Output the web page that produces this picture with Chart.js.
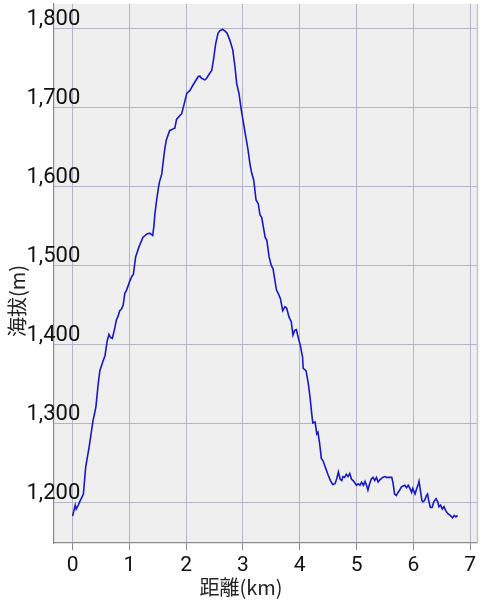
<!DOCTYPE html>
<html>
<head>
<meta charset="utf-8">
<script src="https://cdn.jsdelivr.net/npm/chart.js@4/dist/chart.umd.min.js"></script>
<style>
html,body{margin:0;padding:0;background:#fff;}
#wrap{width:482px;height:600px;position:relative;}
canvas{display:block;}
</style>
</head>
<body>
<div id="wrap"><canvas id="c" width="482" height="600"></canvas></div>
<script>
const distKm = [0.00,0.046,0.063,0.10,0.13,0.19,0.23,0.29,0.36,0.41,0.45,0.48,0.53,0.57,0.61,0.64,0.67,0.70,0.74,0.77,0.80,0.83,0.86,0.89,0.92,0.95,1.01,1.04,1.07,1.11,1.17,1.24,1.31,1.36,1.41,1.43,1.45,1.48,1.51,1.53,1.57,1.62,1.65,1.71,1.74,1.77,1.80,1.83,1.89,1.92,1.98,2.01,2.07,2.10,2.15,2.21,2.24,2.27,2.33,2.36,2.42,2.45,2.48,2.52,2.56,2.59,2.62,2.64,2.68,2.72,2.77,2.82,2.86,2.89,2.93,2.97,3.00,3.05,3.09,3.12,3.15,3.19,3.23,3.27,3.30,3.33,3.39,3.42,3.46,3.50,3.53,3.59,3.62,3.66,3.70,3.74,3.77,3.81,3.85,3.88,3.91,3.94,3.97,4.01,4.05,4.06,4.11,4.15,4.18,4.21,4.23,4.27,4.30,4.32,4.35,4.38,4.41,4.46,4.50,4.54,4.58,4.62,4.65,4.68,4.71,4.74,4.76,4.79,4.82,4.85,4.88,4.91,4.94,4.97,5.00,5.03,5.06,5.09,5.12,5.15,5.18,5.20,5.23,5.26,5.29,5.32,5.35,5.38,5.41,5.46,5.50,5.53,5.57,5.62,5.64,5.67,5.70,5.73,5.76,5.79,5.82,5.85,5.88,5.91,5.94,5.97,5.99,6.03,6.06,6.09,6.10,6.13,6.15,6.17,6.20,6.23,6.25,6.27,6.30,6.33,6.36,6.40,6.43,6.45,6.48,6.51,6.54,6.57,6.61,6.65,6.69,6.72,6.75,6.78];
const elevM = [1183,1197,1192,1197,1202,1211,1245,1270,1304,1321,1350,1367,1378,1386,1405,1413,1409,1408,1420,1431,1436,1443,1445,1450,1465,1469,1481,1486,1489,1511,1524,1536,1540,1541,1538,1549,1566,1583,1598,1606,1616,1646,1659,1671,1672,1673,1674,1685,1690,1692,1709,1718,1722,1726,1732,1739,1740,1737,1735,1737,1744,1747,1760,1781,1794,1797,1798,1799,1797,1794,1785,1773,1751,1730,1718,1697,1684,1663,1646,1630,1618,1608,1583,1578,1564,1561,1536,1532,1511,1500,1496,1469,1465,1458,1443,1448,1446,1435,1429,1412,1418,1419,1410,1399,1384,1370,1367,1351,1334,1313,1301,1302,1287,1289,1275,1256,1253,1243,1235,1228,1223,1224,1230,1239,1230,1228,1233,1232,1236,1233,1237,1230,1228,1225,1222,1224,1222,1226,1222,1227,1221,1216,1224,1230,1232,1228,1232,1226,1229,1232,1233,1232,1232,1232,1226,1211,1209,1213,1216,1220,1221,1222,1219,1222,1218,1213,1218,1211,1218,1224,1227,1213,1203,1201,1203,1209,1211,1203,1194,1194,1201,1205,1201,1195,1197,1192,1195,1190,1186,1184,1181,1184,1182,1184];
const xTickValues = [0,1,2,3,4,5,6,7];
const yTickValues = [1200,1300,1400,1500,1600,1700,1800];
const xTitle = '距離(km)';
const yTitle = '海拔(m)';

const points = distKm.map((d,i)=>({x:d,y:elevM[i]}));

const bgPlugin = {
  id:'bg',
  beforeDraw(chart){
    const {ctx, chartArea:a} = chart;
    ctx.save();
    ctx.fillStyle = '#efeff0';
    ctx.fillRect(a.left, a.top, a.right-a.left, a.bottom-a.top);
    ctx.restore();
  },
  beforeDatasetsDraw(chart){
    const {ctx, chartArea:a} = chart;
    ctx.save();
    ctx.strokeStyle = '#c4c4d2';
    ctx.lineWidth = 1.5;
    ctx.beginPath();
    ctx.moveTo(a.right, a.top);
    ctx.lineTo(a.right, a.bottom);
    ctx.stroke();
    ctx.restore();
  },
  afterDraw(chart){
    const ctx = chart.ctx;
    ctx.save();
    ctx.fillStyle = '#222';
    ctx.font = '20px "Noto Sans CJK JP", "Noto Sans", sans-serif';
    ctx.textAlign = 'center';
    ctx.textBaseline = 'middle';
    ctx.fillText(xTitle, 241, 587);
    ctx.translate(17, 301);
    ctx.rotate(-Math.PI/2);
    ctx.fillText(yTitle, 0, 0);
    ctx.restore();
  }
};

new Chart(document.getElementById('c'), {
  type:'line',
  data:{datasets:[{
    data:points,
    borderColor:'#1818c8',
    borderWidth:1.6,
    pointRadius:0,
    tension:0,
    fill:false
  }]},
  options:{
    responsive:false,
    animation:false,
    events:[],
    layout:{padding:{left:0,right:4.5,top:4,bottom:0}},
    plugins:{legend:{display:false},tooltip:{enabled:false}},
    scales:{
      x:{
        type:'linear',
        min:-0.34,max:7.13,
        afterBuildTicks(s){ s.ticks = xTickValues.map(v=>({value:v})); },
        afterFit(s){ s.height = 57; },
        grid:{color:'#b4b4c6',lineWidth:1,drawTicks:true,tickLength:7,tickColor:'#8a8a8a'},
        border:{display:true,color:'#8a8a8a',width:1.2},
        ticks:{color:'#111',font:{family:'Roboto',size:21},padding:3,maxRotation:0,autoSkip:false}
      },
      y:{
        type:'linear',
        min:1149,max:1831,
        afterBuildTicks(s){ s.ticks = yTickValues.map(v=>({value:v})); },
        afterFit(s){ s.width = 53.3; },
        grid:{color:'#b4b4c6',lineWidth:1,drawTicks:false},
        border:{display:true,color:'#8a8a8a',width:1.2},
        ticks:{color:'#111',font:{family:'Roboto',size:22},mirror:true,crossAlign:'near',padding:-26.8,labelOffset:-9.5,
          callback:v=>v.toLocaleString('en-US'),autoSkip:false}
      }
    }
  },
  plugins:[bgPlugin]
});
</script>
</body>
</html>
